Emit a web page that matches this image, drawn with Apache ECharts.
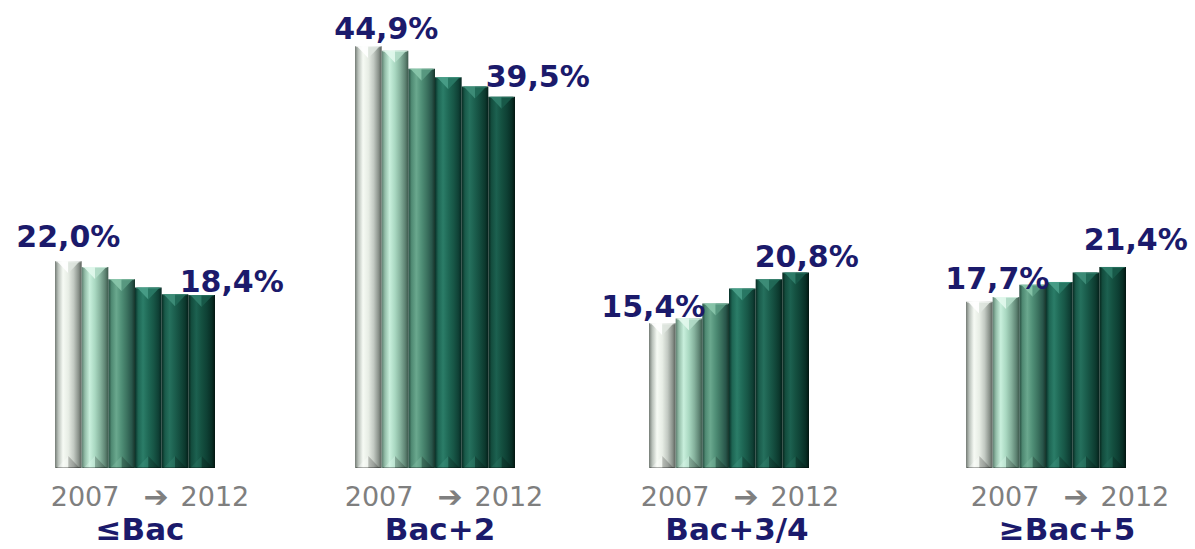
<!DOCTYPE html>
<html><head><meta charset="utf-8">
<script src="https://cdn.jsdelivr.net/npm/echarts@6/dist/echarts.min.js"></script>
<style>html,body{margin:0;padding:0;background:#fff}#c{width:1195px;height:549px}</style>
</head><body><div id="c"></div>
<script>
// ---- data ----
const categories = ['≤Bac', 'Bac+2', 'Bac+3/4', '≥Bac+5'];
const years = ['2007', '2008', '2009', '2010', '2011', '2012'];
const valuesBacOrLess = [22.0, 21.4, 20.1, 19.2, 18.5, 18.4];
const valuesBac2 = [44.9, 44.4, 42.5, 41.6, 40.6, 39.5];
const valuesBac34 = [15.4, 15.9, 17.5, 19.1, 20.1, 20.8];
const valuesBac5Plus = [17.7, 18.2, 19.5, 19.8, 20.8, 21.4];
const spanStart = '2007', spanEnd = '2012', spanArrow = '\u2794';

// ---- layout / style ----
const groupValues = [valuesBacOrLess, valuesBac2, valuesBac34, valuesBac5Plus];
const gridLefts = [55, 355, 649, 966];
const gridWidth = 160;
const gridTop = 17, gridBottom = 81;
const yMax = 48;
const labelOffsets = [[[0, -25], [30, -14]], [[18, -18], [36, -20]], [[-9, -17], [11, -16]], [[18, -23], [23, -27]]];
const yearTextX = [150, 444, 740, 1070];
const catTextX = [140, 440, 737, 1067];
const navy = '#1b1a6b';

const palettes = [
  { stops: ['#747b75', '#b8c0b9', '#f6faf4', '#e7ede5', '#c2c9c2', '#8b938c', '#5a615b'], top: '#ffffff', topR: '#dfe5df' },
  { stops: ['#5e7f70', '#93bda8', '#c8efdc', '#a9d8c1', '#86b29d', '#5f8574', '#3e5a4d'], top: '#e2f8ed', topR: '#b3dcc8' },
  { stops: ['#244a3d', '#4f8a73', '#6aa88e', '#4f8e76', '#3b725f', '#28554a', '#17352b'], top: '#8ac6ab', topR: '#5a9a82' },
  { stops: ['#0a3129', '#1d6553', '#2b7d68', '#1f6956', '#175646', '#0f4035', '#062620'], top: '#4aa08a', topR: '#2a7a66' },
  { stops: ['#082b22', '#195a4a', '#25705d', '#1b5e4d', '#134b3d', '#0c382d', '#04201a'], top: '#3f8f7a', topR: '#226b59' },
  { stops: ['#06241b', '#134d3e', '#1c6150', '#145040', '#0e4034', '#082e25', '#021510'], top: '#317f6b', topR: '#185a49' }
];
const stopPos = [0, 0.12, 0.3, 0.5, 0.7, 0.88, 1];

function barGradient(i) {
  return {
    type: 'linear', x: 0, y: 0, x2: 1, y2: 0,
    colorStops: palettes[i].stops.map((c, k) => ({ offset: stopPos[k], color: c }))
  };
}
function fmt(v) { return v.toFixed(1).replace('.', ',') + '%'; }

function makeRender(gi) {
  const n = groupValues[gi].length;
  return function (params, api) {
    const i = api.value(0), v = api.value(1);
    const top = api.coord([i, v]);
    const base = api.coord([i, 0]);
    const w = api.size([1, 0])[0];
    const xc = top[0], x0 = xc - w / 2, x1 = xc + w / 2, yT = top[1], yB = base[1];
    const d = 12;
    const p = palettes[i];
    const children = [
      { type: 'polygon', shape: { points: [[x0 + 2, yT], [xc, yT], [xc, yT + d]] }, style: { fill: p.top, opacity: 0.9 } },
      { type: 'polygon', shape: { points: [[xc, yT], [x1 - 2, yT], [xc, yT + d]] }, style: { fill: p.topR, opacity: 0.9 } },
      { type: 'line', shape: { x1: x0 + 1, y1: yT + 0.5, x2: x1 - 1, y2: yT + 0.5 }, style: { stroke: p.top, opacity: 0.6, lineWidth: 1 } },
      { type: 'polygon', shape: { points: [[x0 + 2, yB], [xc, yB - d], [xc, yB]] }, style: { fill: p.top, opacity: 0.3 } },
      { type: 'polygon', shape: { points: [[xc, yB - d], [x1 - 2, yB], [xc, yB]] }, style: { fill: '#000000', opacity: 0.2 } },
      { type: 'line', shape: { x1: x0 + 1, y1: yB - 0.5, x2: x1 - 1, y2: yB - 0.5 }, style: { stroke: '#000000', opacity: 0.3, lineWidth: 1 } }
    ];
    if (i === 0 || i === n - 1) {
      const off = labelOffsets[gi][i === 0 ? 0 : 1];
      children.push({
        type: 'text', x: xc + off[0], y: yT + off[1], z2: 100,
        style: { text: fmt(v), fill: navy, font: 'bold 30px "DejaVu Sans"', align: 'center', verticalAlign: 'middle' }
      });
    }
    return { type: 'group', children };
  };
}

const grids = [], xAxes = [], yAxes = [], series = [];
groupValues.forEach((vals, gi) => {
  grids.push({ left: gridLefts[gi], width: gridWidth, top: gridTop, bottom: gridBottom, containLabel: false });
  xAxes.push({ type: 'category', gridIndex: gi, data: years, show: false });
  yAxes.push({ type: 'value', gridIndex: gi, min: 0, max: yMax, show: false, splitLine: { show: false } });
  series.push({
    type: 'bar', name: categories[gi], xAxisIndex: gi, yAxisIndex: gi, barCategoryGap: '0%', z: 2,
    silent: true, animation: false,
    data: vals.map((v, i) => ({ value: v, itemStyle: { color: barGradient(i) } }))
  });
  series.push({
    type: 'custom', xAxisIndex: gi, yAxisIndex: gi, z: 3, silent: true, animation: false,
    renderItem: makeRender(gi),
    data: vals.map((v, i) => [i, v])
  });
});

const graphics = [];
categories.forEach((c, gi) => {
  graphics.push({ type: 'text', x: yearTextX[gi], y: 496, silent: true,
    style: {
      text: '{y|' + spanStart + '}{a|' + spanArrow + '}{y|' + spanEnd + '}',
      align: 'center', verticalAlign: 'middle',
      rich: {
        y: { fill: '#7f7f7f', fontSize: 27, lineHeight: 26, fontFamily: '"DejaVu Sans"' },
        a: { fill: '#7f7f7f', fontSize: 30, lineHeight: 26, fontWeight: 'bold', fontFamily: '"DejaVu Sans"', padding: [0, 12, 0, 24] }
      }
    } });
  graphics.push({ type: 'text', x: catTextX[gi], y: 529, silent: true,
    style: { text: c, fill: navy, font: 'bold 31px "DejaVu Sans"', lineHeight: 30, align: 'center', verticalAlign: 'middle' } });
});

const chart = echarts.init(document.getElementById('c'), null, { renderer: 'svg' });
chart.setOption({
  backgroundColor: '#ffffff',
  animation: false,
  grid: grids, xAxis: xAxes, yAxis: yAxes, series: series,
  graphic: graphics
});
</script>
</body></html>
